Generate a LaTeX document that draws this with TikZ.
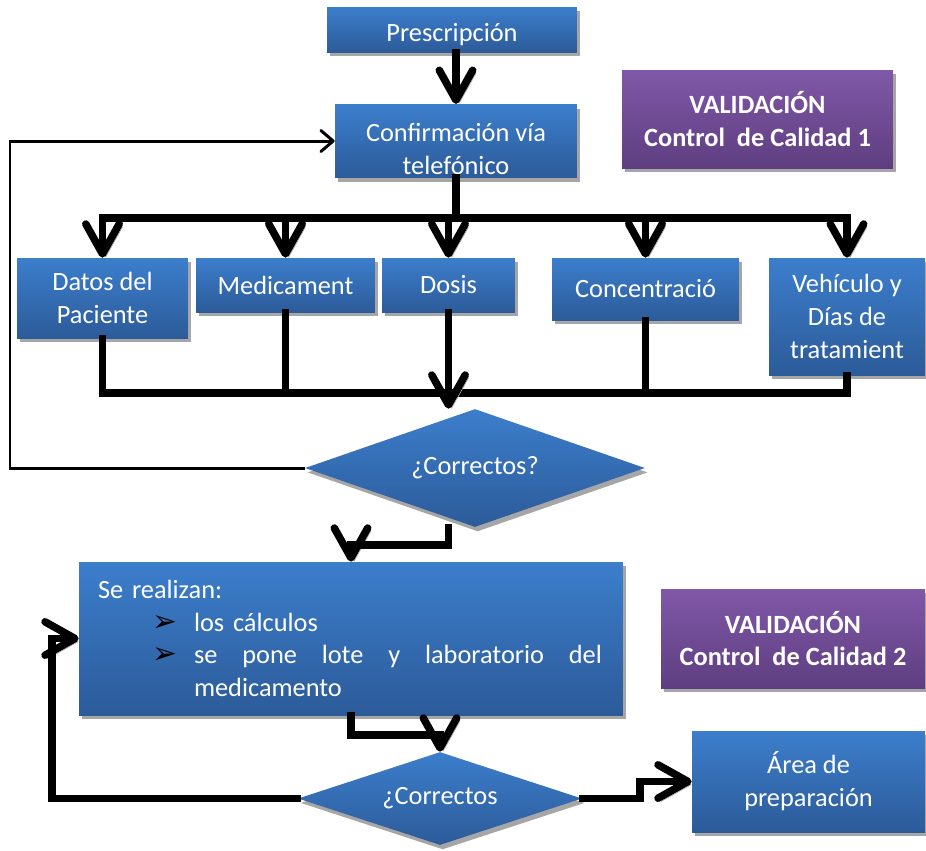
\documentclass[tikz,border=0pt]{standalone}
\usepackage{fontspec}
\setmainfont{Carlito}
\newfontfamily\symfont{DejaVu Sans}
\usetikzlibrary{shapes.geometric,arrows.meta,shadows}

\definecolor{boxtop}{RGB}{60,126,204}
\definecolor{boxbot}{RGB}{44,91,153}
\definecolor{valtop}{RGB}{128,88,168}
\definecolor{valbot}{RGB}{94,62,128}

\tikzset{
  box/.style={rectangle, draw=none, text=white, align=center, inner sep=2pt,
    font=\fontsize{15}{18.7}\selectfont,
    drop shadow={shadow xshift=1.5pt, shadow yshift=-2.5pt, fill=black!35, opacity=1}},
  bluebox/.style={box, top color=boxtop, bottom color=boxbot},
  validbox/.style={box, top color=valtop, bottom color=valbot,
    font=\fontsize{15}{18.5}\selectfont\bfseries},
  check/.style={bluebox, diamond, inner sep=0pt, aspect=3},
  link/.style={line width=4.3pt, line cap=rect,
    general shadow={draw=black!35, shadow xshift=1.8pt, shadow yshift=-1.8pt}},
  linkarrow/.style={link, -{Straight Barb[round, length=17pt, width=19pt]}},
  thinlink/.style={line width=1.7pt, -{Straight Barb[round, length=7pt, width=12pt]}}
}
\newcommand{\bul}{{\symfont\fontsize{17}{17}\selectfont\color{black}➢}}

\begin{document}
\begin{tikzpicture}[x=0.02cm, y=-0.02cm]
    \useasboundingbox (0,0) rectangle (926,850);

    \node[bluebox, minimum width=5cm, minimum height=0.9cm, text height=0.58cm] (presc) at (452,29.5) {Prescripción};
    \node[bluebox, minimum width=4.84cm, minimum height=1.44cm] (confirm) at (456,141) {\rule{0pt}{19pt}Confirmación vía\\telefónico};
    \node[validbox, minimum width=5.42cm, minimum height=1.96cm] (val1) at (757.5,119) {VALIDACIÓN\\Control\ \ de Calidad 1};

    \node[bluebox, minimum width=3.42cm, minimum height=1.6cm] (datos) at (102.5,298) {Datos del\\Paciente};
    \node[bluebox, minimum width=3.58cm, minimum height=1.08cm] (medic) at (285.5,285) {Medicament};
    \node[bluebox, minimum width=2.66cm, minimum height=1.08cm] (dosis) at (448.5,285) {Dosis};
    \node[bluebox, minimum width=3.74cm, minimum height=1.24cm] (conc) at (645.5,289) {Concentració};
    \node[bluebox, minimum width=3.12cm, minimum height=2.34cm] (vehic) at (847,316.5) {Vehículo y\\Días de\\tratamient};

    \node[check, minimum width=6.8cm, minimum height=2.36cm] (chk1) at (475,468) {¿Correctos?};

    \node[bluebox, minimum width=10.88cm, minimum height=3.06cm, text width=10.12cm, inner xsep=0.38cm, align=left] (calc) at (351,638.5)
        {Se realizan:\\
         \hspace*{1.08cm}\makebox[0.84cm][l]{\bul}los cálculos\\
         \hspace*{1.08cm}\makebox[0.84cm][l]{\bul}\hbox to 8.16cm{se\hfill pone\hfill lote\hfill y\hfill laboratorio\hfill del}\\
         \hspace*{1.92cm}medicamento};
    \node[validbox, minimum width=5.28cm, minimum height=1.98cm] (val2) at (793,638.5) {VALIDACIÓN\\Control\ \ de Calidad 2};

    \node[check, minimum width=5.68cm, minimum height=1.86cm] (chk2) at (440,798.5) {¿Correctos};
    \node[bluebox, minimum width=4.66cm, minimum height=2.02cm] (area) at (808.5,781.5) {Área de\\preparación};

    \coordinate (topbus) at (0,218);
    \coordinate (lowbus) at (0,393);
    \coordinate (rail1) at (10,0);
    \coordinate (jog1) at (0,545);
    \coordinate (jog2) at (0,735);
    \coordinate (rail2) at (52,0);
    \coordinate (stepx) at (640,0);

    \draw[linkarrow] (confirm.north |- presc.south) -- (confirm.north);

    \draw[linkarrow] (confirm.south) -- (confirm.south |- topbus) -| (datos.north);
    \draw[linkarrow] (confirm.south |- topbus) -| (vehic.north);
    \foreach \n in {medic,dosis,conc}
        \draw[linkarrow] (\n.north |- topbus) -- (\n.north);

    \draw[link] (datos.south) -- (datos.south |- lowbus) -- (vehic.south |- lowbus) -- (vehic.south);
    \foreach \n in {medic,conc}
        \draw[link] (\n.south) -- (\n.south |- lowbus);
    \draw[linkarrow] (dosis.south) -- (dosis.south |- chk1.north);

    \draw[thinlink] (chk1.west) -- (chk1.west -| rail1) |- (confirm.west);

    \draw[linkarrow] (chk1.south -| dosis.south) -- (dosis.south |- jog1) -| (calc.north);
    \draw[linkarrow] (calc.south) -- (calc.south |- jog2) -| (chk2.north);

    \draw[linkarrow] (chk2.west) -- (chk2.west -| rail2) |- (calc.west);
    \draw[linkarrow] (chk2.east) -- (chk2.east -| stepx) -- (stepx |- area.west) -- (area.west);
\end{tikzpicture}
\end{document}
